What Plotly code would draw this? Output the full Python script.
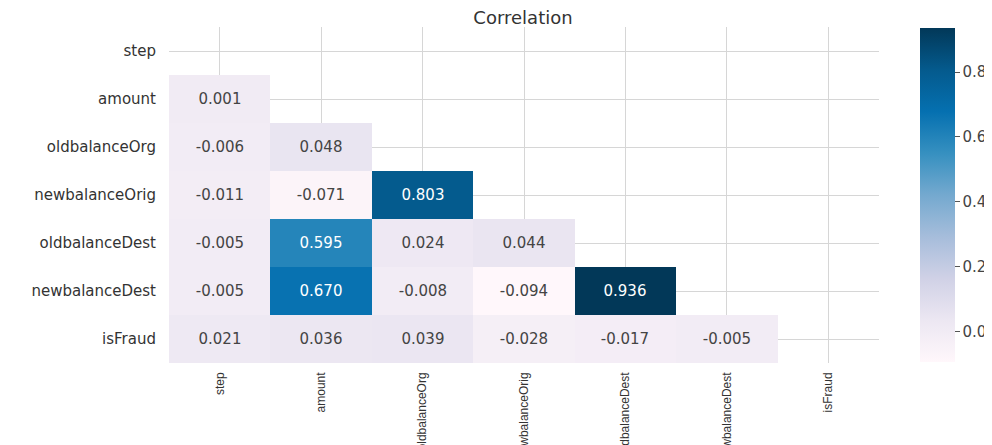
import numpy as np
import plotly.graph_objects as go

labels = ["step", "amount", "oldbalanceOrg", "newbalanceOrig",
          "oldbalanceDest", "newbalanceDest", "isFraud"]

# lower-triangle correlations (row i, columns 0..i-1)
row_amount = [0.001]
row_oldbalanceOrg = [-0.006, 0.048]
row_newbalanceOrig = [-0.011, -0.071, 0.803]
row_oldbalanceDest = [-0.005, 0.595, 0.024, 0.044]
row_newbalanceDest = [-0.005, 0.670, -0.008, -0.094, 0.936]
row_isFraud = [0.021, 0.036, 0.039, -0.028, -0.017, -0.005]

rows = [[], row_amount, row_oldbalanceOrg, row_newbalanceOrig,
        row_oldbalanceDest, row_newbalanceDest, row_isFraud]

n = len(labels)
z = []
text = []
for r in rows:
    zr = list(r) + [None] * (n - len(r))
    z.append(zr)
    text.append([("%.3f" % v) if v is not None else "" for v in zr])

vmin = min(v for r in rows for v in r)
vmax = max(v for r in rows for v in r)

FONT = "DejaVu Sans, Liberation Sans, Arial"

fig = go.Figure(go.Heatmap(
    z=z, x=labels, y=labels, text=text, texttemplate="%{text}",
    textfont=dict(size=15, family=FONT),
    colorscale="PuBu", zmin=vmin, zmax=vmax,
    hoverongaps=False,
    colorbar=dict(
        xref="container", x=912 / 992, xanchor="left", xpad=0, ypad=0,
        thickness=35, len=0.994, y=0.5, yanchor="middle", outlinewidth=0,
        ticks="outside", ticklen=5, tickcolor="#555",
        tickvals=[0, 0.2, 0.4, 0.6, 0.8], tickformat=".1f",
        tickfont=dict(size=15, color="#444", family=FONT),
    ),
))

fig.update_layout(
    width=992, height=445,
    margin=dict(l=161, r=121, t=19, b=90),
    paper_bgcolor="white", plot_bgcolor="white",
    font=dict(family=FONT, color="#333", size=14),
    title=dict(text="Correlation", x=0.4986, xref="paper", xanchor="center",
               y=1 - 10 / 445, yanchor="middle",
               font=dict(size=18, color="#333", family=FONT)),
)
fig.update_xaxes(showgrid=True, gridcolor="#d6d6d6", gridwidth=1,
                 tickangle=-90, ticks="", zeroline=False, showline=False,
                 automargin=False, ticklabelstandoff=6,
                 tickfont=dict(size=12, color="#333",
                               family="Liberation Sans, Arial"))
fig.update_yaxes(showgrid=True, gridcolor="#d6d6d6", gridwidth=1,
                 autorange="reversed", ticks="", zeroline=False,
                 showline=False, automargin=False, ticklabelstandoff=12,
                 tickfont=dict(size=15, color="#333", family=FONT))

fig.write_html("out.html")
